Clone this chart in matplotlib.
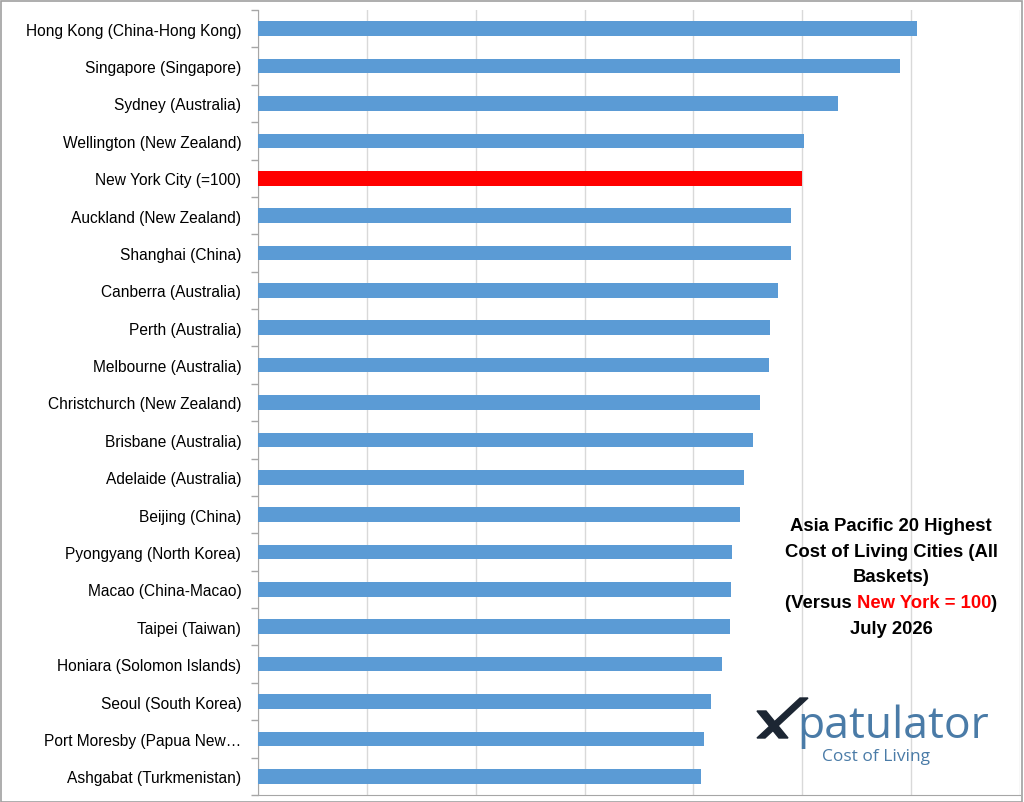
import numpy as np
import matplotlib
matplotlib.use('Agg')
import matplotlib.pyplot as plt
from matplotlib import font_manager
from matplotlib.patches import Rectangle, Polygon
from matplotlib.offsetbox import TextArea, HPacker, VPacker, AnchoredOffsetbox

plt.rcParams['font.family'] = ['Liberation Sans', 'DejaVu Sans']

cities = [
    'Hong Kong (China-Hong Kong)', 'Singapore (Singapore)', 'Sydney (Australia)',
    'Wellington (New Zealand)', 'New York City (=100)', 'Auckland (New Zealand)',
    'Shanghai (China)', 'Canberra (Australia)', 'Perth (Australia)',
    'Melbourne (Australia)', 'Christchurch (New Zealand)', 'Brisbane (Australia)',
    'Adelaide (Australia)', 'Beijing (China)', 'Pyongyang (North Korea)',
    'Macao (China-Macao)', 'Taipei (Taiwan)', 'Honiara (Solomon Islands)',
    'Seoul (South Korea)', 'Port Moresby (Papua New\u2026', 'Ashgabat (Turkmenistan)',
]
index_values = [121.0, 118.0, 106.5, 100.4, 100.0, 98.0, 98.0, 95.6, 94.1, 93.8,
                92.3, 91.0, 89.2, 88.6, 87.1, 86.9, 86.8, 85.3, 83.3, 81.9, 81.3]
highlight = 'New York City (=100)'

BLUE = '#5B9BD5'
RED = '#FF0000'

# labels in the original are a condensed Arial
installed = {f.name for f in font_manager.fontManager.ttflist}
if 'Liberation Sans Narrow' in installed:
    label_font, label_size = 'Liberation Sans Narrow', 13.2
else:
    label_font, label_size = 'Liberation Sans', 11.2

fig = plt.figure(figsize=(10.24, 8.03), dpi=100)
ax = fig.add_axes([258 / 1024, 1 - 796 / 803, (1020 - 258) / 1024, (796 - 11) / 803])

y = np.arange(len(cities))
colors = [RED if c == highlight else BLUE for c in cities]
ax.barh(y, index_values, height=0.39, color=colors, zorder=3)

ax.set_xlim(0, 140)
ax.set_ylim(len(cities) - 0.5, -0.5)
ax.set_xticks(np.arange(0, 141, 20))
ax.tick_params(axis='x', length=0, labelbottom=False)
ax.grid(axis='x', color='#D9D9D9', linewidth=1, zorder=0)

ax.set_yticks(y)
ax.set_yticklabels(cities, fontsize=label_size, family=label_font)
ax.set_yticks(np.arange(-0.5, len(cities), 1), minor=True)
ax.tick_params(axis='y', which='major', length=0, pad=12)
ax.tick_params(axis='y', which='minor', length=5, color='#A6A6A6', width=1)

for s in ['top', 'right']:
    ax.spines[s].set_visible(False)
for s in ['left', 'bottom']:
    ax.spines[s].set_color('#A6A6A6')

# title block with red part
fs = 13.3
def line(*parts):
    boxes = [TextArea(t, textprops=dict(fontsize=fs, fontweight='bold', color=c,
                                        family='Liberation Sans'))
             for t, c in parts]
    return HPacker(children=boxes, align='baseline', pad=0, sep=0)

block = VPacker(children=[
    line(('Asia Pacific 20 Highest', 'black')),
    line(('Cost of Living Cities (All', 'black')),
    line(('Baskets)', 'black')),
    line(('(Versus ', 'black'), ('New York = 100', RED), (')', 'black')),
    line(('July 2026', 'black')),
], align='center', pad=0, sep=6.3)
anch = AnchoredOffsetbox(loc='center', child=block, frameon=False,
                         bbox_to_anchor=(891 / 1024, 1 - 578 / 803),
                         bbox_transform=fig.transFigure, borderpad=0, pad=0)
fig.add_artist(anch)

# Xpatulator logo
def px(x, yy):
    return (x / 1024, 1 - yy / 803)

navy = '#1C2633'
x1 = Polygon([px(757, 712), px(766, 712), px(788, 739), px(779, 739)],
             closed=True, color=navy, transform=fig.transFigure)
x2 = Polygon([px(800, 699), px(808, 699), px(765, 739), px(757, 739)],
             closed=True, color=navy, transform=fig.transFigure)
fig.add_artist(x1)
fig.add_artist(x2)
fig.text(*px(797, 727), 'patulator', fontsize=32, color='#4A7BA7',
         family='Open Sans', ha='left', va='center')
fig.text(*px(876, 757), 'Cost of Living', fontsize=12.5, color='#4A7BA7',
         family='Open Sans', ha='center', va='center')

# chart border
fig.add_artist(Rectangle((0.5 / 1024, 0.5 / 803), 1021 / 1024, 801 / 803,
                         transform=fig.transFigure, fill=False,
                         edgecolor='#A0A0A0', linewidth=1.2))

fig.savefig('out.png', dpi=100)
